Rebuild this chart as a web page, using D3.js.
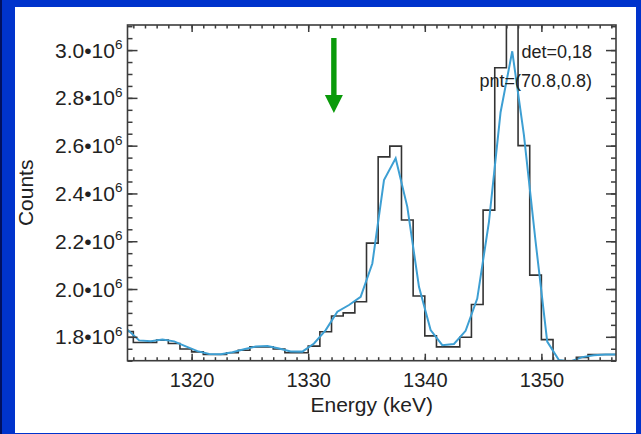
<!DOCTYPE html>
<html>
<head>
<meta charset="utf-8">
<script src="https://cdn.jsdelivr.net/npm/d3@7"></script>
<style>
body { margin: 0; background: #0033cc; }
svg { display: block; }
</style>
</head>
<body>
<svg></svg>
<script>
// bin left edges (keV) and histogram counts (x 10^6)
var binStart = [1314, 1315, 1316, 1317, 1318, 1319, 1320, 1321, 1322, 1323, 1324,
  1325, 1326, 1327, 1328, 1329, 1330, 1331, 1332, 1333, 1334, 1335, 1336, 1337,
  1338, 1339, 1340, 1341, 1342, 1343, 1344, 1345, 1346, 1347, 1348, 1349, 1350,
  1351, 1352, 1353, 1354, 1355, 1356];
var histCounts = [1.822, 1.776, 1.776, 1.786, 1.772, 1.749, 1.737, 1.726, 1.726, 1.733, 1.744,
  1.758, 1.758, 1.749, 1.733, 1.733, 1.761, 1.821, 1.887, 1.900, 1.947, 2.192, 2.553, 2.598,
  2.289, 1.971, 1.804, 1.758, 1.758, 1.798, 1.935, 2.330, 2.926, 3.200, 2.600, 2.058, 1.788,
  1.700, 1.699, 1.714, 1.726, 1.726, 1.726];

// fitted curve, sampled at bin centres
var fitEnergy = [1314.5, 1315.5, 1316.5, 1317.5, 1318.5, 1319.5, 1320.5, 1321.5, 1322.5, 1323.5, 1324.5,
  1325.5, 1326.5, 1327.5, 1328.5, 1329.5, 1330.5, 1331.5, 1332.5, 1333.5, 1334.5, 1335.5, 1336.5, 1337.5,
  1338.5, 1339.5, 1340.5, 1341.5, 1342.5, 1343.5, 1344.5, 1345.5, 1346.5, 1347.5, 1348.5, 1349.5, 1350.5,
  1351.5, 1352.5, 1353.5, 1354.5, 1355.5, 1356.5];
var fitCounts = [1.830, 1.785, 1.781, 1.789, 1.781, 1.760, 1.740, 1.728, 1.727, 1.735, 1.748,
  1.759, 1.761, 1.751, 1.739, 1.738, 1.772, 1.828, 1.905, 1.933, 1.967, 2.107, 2.456, 2.547,
  2.344, 2.009, 1.828, 1.765, 1.770, 1.825, 1.960, 2.280, 2.740, 2.995, 2.645, 2.200, 1.780,
  1.703, 1.697, 1.715, 1.723, 1.726, 1.726];

var xTicks = [1320, 1330, 1340, 1350];
var xTickLabels = ["1320", "1330", "1340", "1350"];
var yTicks = [1.8, 2.0, 2.2, 2.4, 2.6, 2.8, 3.0];
var yTickLabels = ["1.8", "2.0", "2.2", "2.4", "2.6", "2.8", "3.0"];

var arrowEnergy = 1332.2;
var notes = ["det=0,18", "pnt=(70.8,0.8)"];

var W = 641, H = 434;
var svg = d3.select('svg').attr('width', W).attr('height', H);

// slide background + white panel
svg.append('rect').attr('width', W).attr('height', H).attr('fill', '#0033cc');
svg.append('rect').attr('width', 2).attr('height', H).attr('fill', '#001060');
svg.append('rect').attr('x', 15).attr('y', 7).attr('width', 621).attr('height', 426).attr('fill', '#fff');

var pL = 127.5, pR = 616, pT = 25, pB = 360.7;
var x = d3.scaleLinear().domain([1314.5, 1356.4]).range([pL, pR]);
var y = d3.scaleLinear().domain([1.7, 3.105]).range([pB, pT]);

svg.append('clipPath').attr('id', 'plot')
  .append('rect').attr('x', pL).attr('y', pT).attr('width', pR - pL).attr('height', pB - pT);

var font = 'Liberation Sans, Arial, Helvetica, sans-serif';
var axisColor = '#3c3c3c';
var textColor = '#222';

// histogram steps
var histPts = binStart.map(function(b, i) { return [b, histCounts[i]]; });
histPts.push([binStart[binStart.length - 1] + 1, histCounts[histCounts.length - 1]]);
var stepLine = d3.line()
  .x(function(d) { return x(d[0]); })
  .y(function(d) { return y(d[1]); })
  .curve(d3.curveStepAfter);

var plot = svg.append('g').attr('clip-path', 'url(#plot)');
plot.append('path')
  .attr('d', stepLine(histPts))
  .attr('fill', 'none')
  .attr('stroke', '#333')
  .attr('stroke-width', 1.6);

var fitLine = d3.line()
  .x(function(d, i) { return x(fitEnergy[i]); })
  .y(function(d) { return y(d); });
plot.append('path')
  .attr('d', fitLine(fitCounts))
  .attr('fill', 'none')
  .attr('stroke', '#3d9fd3')
  .attr('stroke-width', 2);

// axes: ticks point inward on all four sides
var xMinor = d3.range(1315, 1357, 1);
var yMinor = d3.range(1.70, 3.11, 0.05);

function styleAxis(g) {
  g.select('.domain').remove();
  g.selectAll('line').attr('stroke', axisColor).attr('stroke-width', 1.5);
}

svg.append('g').attr('transform', 'translate(0,' + pB + ')')
  .call(d3.axisBottom(x).tickValues(xMinor).tickSize(-3.5).tickFormat(''))
  .call(styleAxis);
svg.append('g').attr('transform', 'translate(0,' + pT + ')')
  .call(d3.axisTop(x).tickValues(xMinor).tickSize(-3.5).tickFormat(''))
  .call(styleAxis);
svg.append('g').attr('transform', 'translate(0,' + pB + ')')
  .call(d3.axisBottom(x).tickValues(xTicks).tickSize(-7).tickPadding(12)
    .tickFormat(function(d, i) { return xTickLabels[i]; }))
  .call(styleAxis)
  .selectAll('text').attr('font-family', font).attr('font-size', 20).attr('fill', textColor);
svg.append('g').attr('transform', 'translate(0,' + pT + ')')
  .call(d3.axisTop(x).tickValues(xTicks).tickSize(-7).tickFormat(''))
  .call(styleAxis);

svg.append('g').attr('transform', 'translate(' + pL + ',0)')
  .call(d3.axisLeft(y).tickValues(yMinor).tickSize(-5).tickFormat(''))
  .call(styleAxis);
svg.append('g').attr('transform', 'translate(' + pR + ',0)')
  .call(d3.axisRight(y).tickValues(yMinor).tickSize(-5).tickFormat(''))
  .call(styleAxis);
svg.append('g').attr('transform', 'translate(' + pL + ',0)')
  .call(d3.axisLeft(y).tickValues(yTicks).tickSize(-10).tickFormat(''))
  .call(styleAxis);
svg.append('g').attr('transform', 'translate(' + pR + ',0)')
  .call(d3.axisRight(y).tickValues(yTicks).tickSize(-10).tickFormat(''))
  .call(styleAxis);

// y tick labels like 3.0•10^6
var yl = svg.append('g').selectAll('text')
  .data(yTicks)
  .enter().append('text')
  .attr('x', pL - 5)
  .attr('y', function(d) { return y(d) + 7.5; })
  .attr('text-anchor', 'end')
  .attr('font-family', font)
  .attr('font-size', 21)
  .attr('fill', textColor);
yl.append('tspan').text(function(d, i) { return yTickLabels[i] + '\u202210'; });
yl.append('tspan').attr('font-size', 13.5).attr('dy', -8.5).text('6');

// frame
svg.append('rect')
  .attr('x', pL).attr('y', pT)
  .attr('width', pR - pL).attr('height', pB - pT)
  .attr('fill', 'none').attr('stroke', axisColor).attr('stroke-width', 1.6);

// axis titles
svg.append('text')
  .attr('x', (pL + pR) / 2).attr('y', 411.5)
  .attr('text-anchor', 'middle')
  .attr('font-family', font).attr('font-size', 21).attr('fill', textColor)
  .text('Energy (keV)');
svg.append('text')
  .attr('transform', 'translate(33,' + ((pT + pB) / 2) + ') rotate(-90)')
  .attr('text-anchor', 'middle')
  .attr('font-family', font).attr('font-size', 21).attr('fill', textColor)
  .text('Counts');

// annotations
svg.append('text').attr('x', 592).attr('y', 58).attr('text-anchor', 'end')
  .attr('font-family', font).attr('font-size', 18).attr('fill', textColor).text(notes[0]);
svg.append('text').attr('x', 592).attr('y', 87).attr('text-anchor', 'end')
  .attr('font-family', font).attr('font-size', 18).attr('fill', textColor).text(notes[1]);

// green arrow
var ax = x(arrowEnergy);
svg.append('rect').attr('x', ax - 2.7).attr('y', 38).attr('width', 5.4).attr('height', 58).attr('fill', '#0a9a0a');
svg.append('path')
  .attr('d', 'M' + (ax - 9) + ',95 L' + (ax + 9) + ',95 L' + ax + ',113 Z')
  .attr('fill', '#0a9a0a');
</script>
</body>
</html>
